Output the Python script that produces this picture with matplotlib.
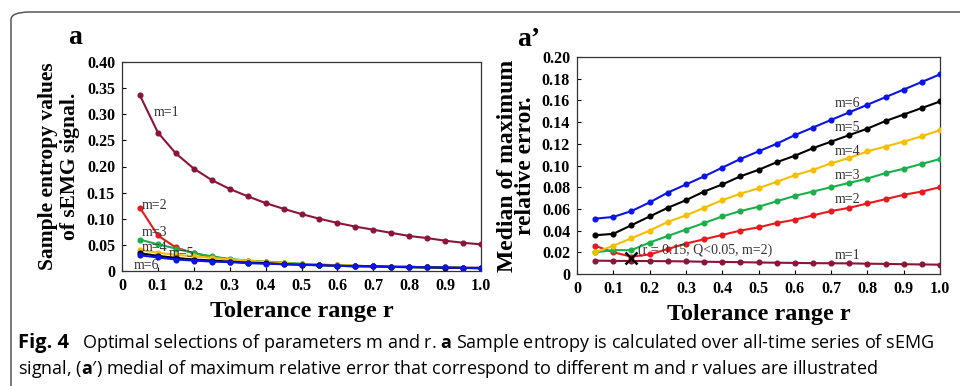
import matplotlib
matplotlib.use('Agg')
import matplotlib.pyplot as plt
from matplotlib.patches import FancyBboxPatch

r = [0.05, 0.10, 0.15, 0.20, 0.25, 0.30, 0.35, 0.40, 0.45, 0.50,
     0.55, 0.60, 0.65, 0.70, 0.75, 0.80, 0.85, 0.90, 0.95, 1.00]

# panel a: sample entropy
se_m1 = [0.336, 0.265, 0.225, 0.196, 0.174, 0.157, 0.143, 0.130, 0.119, 0.109,
         0.100, 0.092, 0.085, 0.079, 0.073, 0.067, 0.063, 0.058, 0.054, 0.051]
se_m2 = [0.121, 0.068, 0.045, 0.034, 0.027, 0.022, 0.019, 0.017, 0.015, 0.013,
         0.012, 0.011, 0.010, 0.009, 0.008, 0.008, 0.007, 0.007, 0.006, 0.006]
se_m3 = [0.060, 0.051, 0.043, 0.034, 0.028, 0.023, 0.020, 0.018, 0.016, 0.014,
         0.012, 0.011, 0.010, 0.009, 0.008, 0.008, 0.007, 0.007, 0.006, 0.006]
se_m4 = [0.040, 0.035, 0.031, 0.028, 0.025, 0.022, 0.020, 0.017, 0.015, 0.013,
         0.012, 0.011, 0.010, 0.009, 0.008, 0.008, 0.007, 0.007, 0.006, 0.006]
se_m5 = [0.034, 0.029, 0.025, 0.022, 0.020, 0.018, 0.016, 0.015, 0.013, 0.012,
         0.011, 0.010, 0.009, 0.009, 0.008, 0.007, 0.007, 0.006, 0.006, 0.005]
se_m6 = [0.030, 0.026, 0.022, 0.020, 0.018, 0.017, 0.015, 0.014, 0.013, 0.012,
         0.011, 0.010, 0.009, 0.009, 0.008, 0.008, 0.007, 0.007, 0.006, 0.006]

# panel a': median of maximum relative error
re_m1 = [0.0123, 0.0121, 0.0120, 0.0119, 0.0118, 0.0116, 0.0113, 0.0111, 0.0109, 0.0106,
         0.0104, 0.0102, 0.0100, 0.0099, 0.0098, 0.0095, 0.0093, 0.0090, 0.0088, 0.0086]
re_m2 = [0.026, 0.020, 0.016, 0.018, 0.023, 0.028, 0.032, 0.036, 0.040, 0.043,
         0.047, 0.050, 0.054, 0.058, 0.061, 0.065, 0.069, 0.073, 0.076, 0.080]
re_m3 = [0.020, 0.022, 0.022, 0.029, 0.035, 0.041, 0.047, 0.053, 0.058, 0.062,
         0.067, 0.072, 0.076, 0.080, 0.084, 0.088, 0.093, 0.097, 0.1015, 0.106]
re_m4 = [0.020, 0.026, 0.033, 0.040, 0.048, 0.054, 0.061, 0.068, 0.074, 0.079,
         0.085, 0.091, 0.096, 0.102, 0.107, 0.113, 0.1175, 0.122, 0.127, 0.1326]
re_m5 = [0.0357, 0.037, 0.045, 0.053, 0.061, 0.068, 0.076, 0.0825, 0.090, 0.096,
         0.103, 0.109, 0.116, 0.122, 0.128, 0.134, 0.141, 0.147, 0.153, 0.159]
re_m6 = [0.051, 0.0526, 0.058, 0.066, 0.075, 0.0825, 0.090, 0.098, 0.106, 0.113,
         0.120, 0.128, 0.135, 0.142, 0.149, 0.156, 0.163, 0.170, 0.177, 0.184]

colors = ['#8b1538', '#e8191e', '#19b04b', '#f5be00', '#000000', '#0a14e6']
names = ['m=1', 'm=2', 'm=3', 'm=4', 'm=5', 'm=6']

serif = 'Liberation Serif'
plt.rcParams['font.family'] = serif
plt.rcParams['mathtext.fontset'] = 'custom'
plt.rcParams['mathtext.bf'] = 'Open Sans:bold'
plt.rcParams['mathtext.rm'] = 'Open Sans'

fig = plt.figure(figsize=(9.6, 3.86), dpi=100)

# rounded frame
frame = FancyBboxPatch((11 / 960, -0.05), 1.2, 1 - 12 / 386 + 0.05,
                       boxstyle='round,pad=0,rounding_size=0.02',
                       transform=fig.transFigure, fill=False,
                       edgecolor='#555555', linewidth=1.1, clip_on=False)
fig.patches.append(frame)

ax1 = fig.add_axes([122 / 960, 1 - 271 / 386, 359 / 960, 209 / 386])
ax2 = fig.add_axes([577 / 960, 1 - 274 / 386, 363 / 960, 217 / 386])

se = [se_m1, se_m2, se_m3, se_m4, se_m5, se_m6]
re = [re_m1, re_m2, re_m3, re_m4, re_m5, re_m6]

for i in range(6):
    ax1.plot(r, se[i], color=colors[i], lw=1.5, marker='o', ms=3.4, zorder=3 + (i == 5))
    ax2.plot(r, re[i], color=colors[i], lw=1.5, marker='o', ms=3.4, zorder=3)

xt = [0, 0.1, 0.2, 0.3, 0.4, 0.5, 0.6, 0.7, 0.8, 0.9, 1.0]
xtl = ['0', '0.1', '0.2', '0.3', '0.4', '0.5', '0.6', '0.7', '0.8', '0.9', '1.0']

for ax in (ax1, ax2):
    ax.set_xlim(0, 1.0)
    ax.set_xticks(xt)
    ax.set_xticklabels(xtl, fontweight='bold')
    ax.tick_params(direction='in', length=3, width=0.8, labelsize=11.5, pad=5)
    for s in ax.spines.values():
        s.set_linewidth(0.9)
        s.set_color('#333333')
    ax.set_xlabel('Tolerance range r', fontsize=17.5, fontweight='bold', labelpad=5)

ax1.set_ylim(0, 0.40)
ax1.set_yticks([0, 0.05, 0.10, 0.15, 0.20, 0.25, 0.30, 0.35, 0.40])
ax1.set_yticklabels(['0', '0.05', '0.10', '0.15', '0.20', '0.25', '0.30', '0.35', '0.40'],
                    fontweight='bold')
ax1.set_ylabel('Sample entropy values\nof sEMG signal.', fontsize=15.5, fontweight='bold',
               linespacing=1.12, labelpad=5)

ax2.set_ylim(0, 0.20)
ax2.set_yticks([0, 0.02, 0.04, 0.06, 0.08, 0.10, 0.12, 0.14, 0.16, 0.18, 0.20])
ax2.set_yticklabels(['0', '0.02', '0.04', '0.06', '0.08', '0.10', '0.12', '0.14', '0.16',
                     '0.18', '0.20'], fontweight='bold')
ax2.set_ylabel('Median of maximum\nrelative error.', fontsize=17, fontweight='bold',
               linespacing=0.85, labelpad=4)

# curve labels, panel a
lab_a = [(0.087, 0.304), (0.056, 0.125), (0.056, 0.074), (0.056, 0.045), (0.13, 0.034), (0.033, 0.011)]
for (x, y), t in zip(lab_a, names):
    ax1.text(x, y, t, fontsize=10, color='#333333', va='center')

# curve labels, panel a'
lab_b = [(0.71, 0.0175), (0.71, 0.069), (0.71, 0.091), (0.71, 0.113), (0.71, 0.135), (0.71, 0.157)]
for (x, y), t in zip(lab_b, names):
    ax2.text(x, y, t, fontsize=10, color='#333333', va='center')

ax2.plot([0.15], [0.0150], marker='x', color='black', ms=8, mew=1.8, zorder=5)
ax2.text(0.168, 0.0215, '(r = 0.15, Q<0.05, m=2)', fontsize=10, color='#333333', va='center')

fig.text(68 / 960, 1 - 38 / 386, 'a', fontsize=20, fontweight='bold', va='center')
fig.text(517 / 960, 1 - 40 / 386, 'a\u2019', fontsize=20, fontweight='bold', va='center')

# caption
cap = ['Open Sans', 'DejaVu Sans']
fig.text(18 / 960, 1 - 343 / 386, 'Fig. 4', fontsize=14.5, fontweight='bold', family=cap,
         va='center')
fig.text(82 / 960, 1 - 343 / 386,
         'Optimal selections of parameters m and r. $\\mathbf{a}$ Sample entropy is calculated '
         'over all-time series of sEMG', fontsize=13, family=cap, va='center')
fig.text(18 / 960, 1 - 369 / 386,
         'signal, ($\\mathbf{a}\u2032$) medial of maximum relative error that correspond to '
         'different m and r values are illustrated', fontsize=13, family=cap, va='center')

fig.savefig('out.png', dpi=100)
